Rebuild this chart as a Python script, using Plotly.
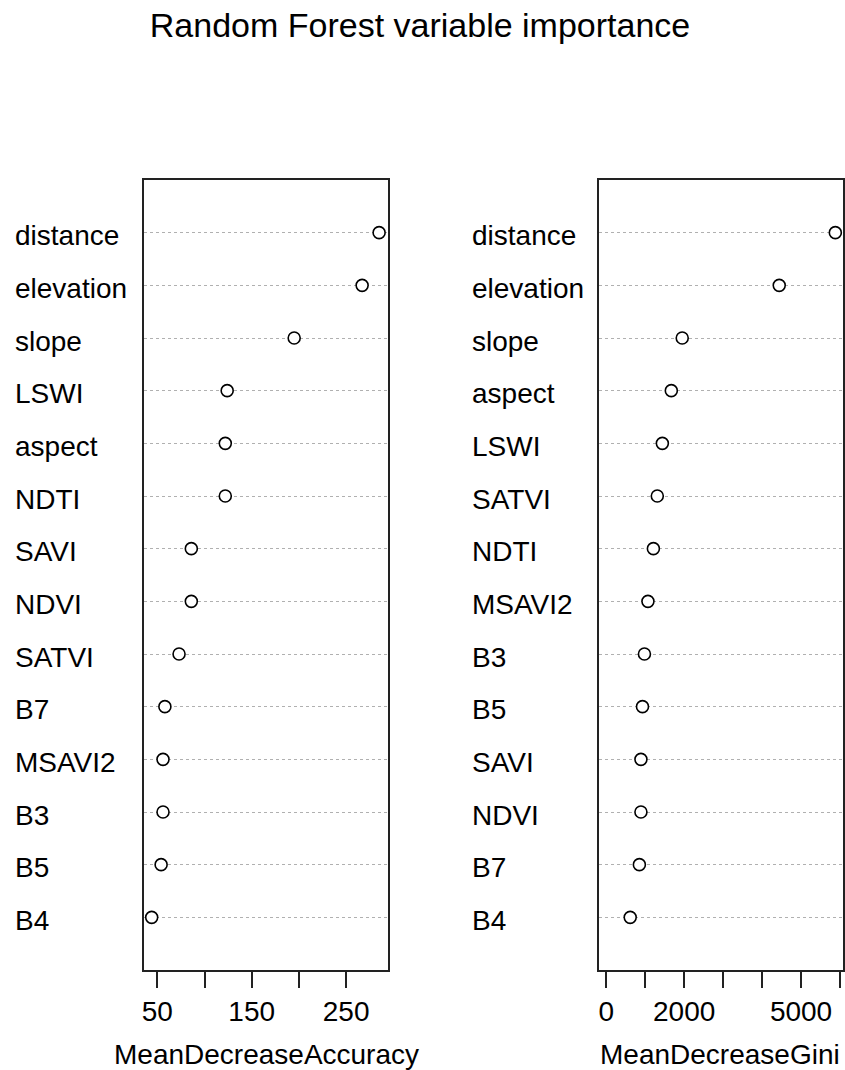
"""
Random Forest variable importance dot charts (R varImpPlot style) in Plotly.
"""

import plotly.graph_objects as go

# Variables listed top to bottom, with importance values
acc_vars = ["distance", "elevation", "slope", "LSWI", "aspect", "NDTI", "SAVI",
            "NDVI", "SATVI", "B7", "MSAVI2", "B3", "B5", "B4"]
acc_vals = [285, 267, 195, 124, 122, 122, 86, 86, 73, 58, 56, 56, 54, 44]

gini_vars = ["distance", "elevation", "slope", "aspect", "LSWI", "SATVI", "NDTI",
             "MSAVI2", "B3", "B5", "SAVI", "NDVI", "B7", "B4"]
gini_vals = [5880, 4440, 1950, 1670, 1440, 1310, 1210, 1070, 980, 930, 890,
             890, 850, 615]

acc_ticks = [50, 100, 150, 200, 250]
acc_ticktext = ["50", "", "150", "", "250"]
gini_ticks = [0, 1000, 2000, 3000, 4000, 5000, 6000]
gini_ticktext = ["0", "", "2000", "", "", "5000", ""]

FONT = "Liberation Sans, Arial, sans-serif"
W, H = 845, 1070


def px_x(px):
    """Page pixel -> paper x."""
    return px / W


def px_y(py):
    """Page pixel -> paper y."""
    return 1 - py / H


def row_positions(n):
    """Dotchart rows: first item on top."""
    return list(range(n, 0, -1))


fig = go.Figure()

marker = dict(symbol="circle", size=12, color="white",
              line=dict(color="black", width=1.6))

fig.add_trace(go.Scatter(x=acc_vals, y=row_positions(len(acc_vars)),
                         mode="markers", marker=marker, xaxis="x", yaxis="y",
                         hoverinfo="x+text", text=acc_vars))
fig.add_trace(go.Scatter(x=gini_vals, y=row_positions(len(gini_vars)),
                         mode="markers", marker=marker, xaxis="x2", yaxis="y2",
                         hoverinfo="x+text", text=gini_vars))

label_font = dict(size=28, color="black", family=FONT)

# variable names, left aligned like R's dotchart labels
annotations = []
for name, ypos in zip(acc_vars, row_positions(len(acc_vars))):
    annotations.append(dict(x=px_x(11), xref="paper", y=ypos, yref="y",
                            text=name, showarrow=False, xanchor="left",
                            yshift=-3, font=label_font))
for name, ypos in zip(gini_vars, row_positions(len(gini_vars))):
    annotations.append(dict(x=px_x(469), xref="paper", y=ypos, yref="y2",
                            text=name, showarrow=False, xanchor="left",
                            yshift=-3, font=label_font))

# axis titles
annotations.append(dict(x=px_x(265), y=px_y(1054), xref="paper", yref="paper",
                        text="MeanDecreaseAccuracy", showarrow=False,
                        xanchor="center", yanchor="middle", font=label_font))
annotations.append(dict(x=px_x(720), y=px_y(1054), xref="paper", yref="paper",
                        text="MeanDecreaseGini", showarrow=False,
                        xanchor="center", yanchor="middle", font=label_font))

box = dict(showline=True, mirror=True, linecolor="#222", linewidth=1.5)
ydom = [px_y(970), px_y(180)]
yaxis = dict(domain=ydom, range=[0, 15], tickvals=list(range(1, 15)),
             showticklabels=False, ticks="", showgrid=True,
             gridcolor="#B0B0B0", griddash="3px,3px", gridwidth=1,
             zeroline=False, **box)
xtick = dict(ticks="outside", ticklen=16, tickwidth=1.5, tickcolor="#222",
             showgrid=False, zeroline=False,
             tickfont=dict(size=28, color="black", family=FONT))

fig.update_layout(
    width=W, height=H,
    margin=dict(l=0, r=0, t=0, b=0),
    paper_bgcolor="white", plot_bgcolor="white",
    showlegend=False,
    font=dict(family=FONT, color="black"),
    title=dict(text="Random Forest variable importance", x=px_x(420),
               xanchor="center", y=px_y(25), yanchor="middle",
               font=dict(size=34, color="black", family=FONT)),
    xaxis=dict(domain=[px_x(142), px_x(387)], range=[35.5, 294.5],
               tickvals=acc_ticks, ticktext=acc_ticktext, anchor="y",
               **xtick, **box),
    yaxis=dict(anchor="x", **yaxis),
    xaxis2=dict(domain=[px_x(598), px_x(843)], range=[-197, 6077],
                tickvals=gini_ticks, ticktext=gini_ticktext, anchor="y2",
                **xtick, **box),
    yaxis2=dict(anchor="x2", **yaxis),
    annotations=annotations,
)

# drop the browser's default body margin so the figure fills the page
fig.write_html("out.html",
               config={"displayModeBar": False},
               post_script="document.body.style.margin='0';"
                           "document.body.style.overflow='hidden';")
